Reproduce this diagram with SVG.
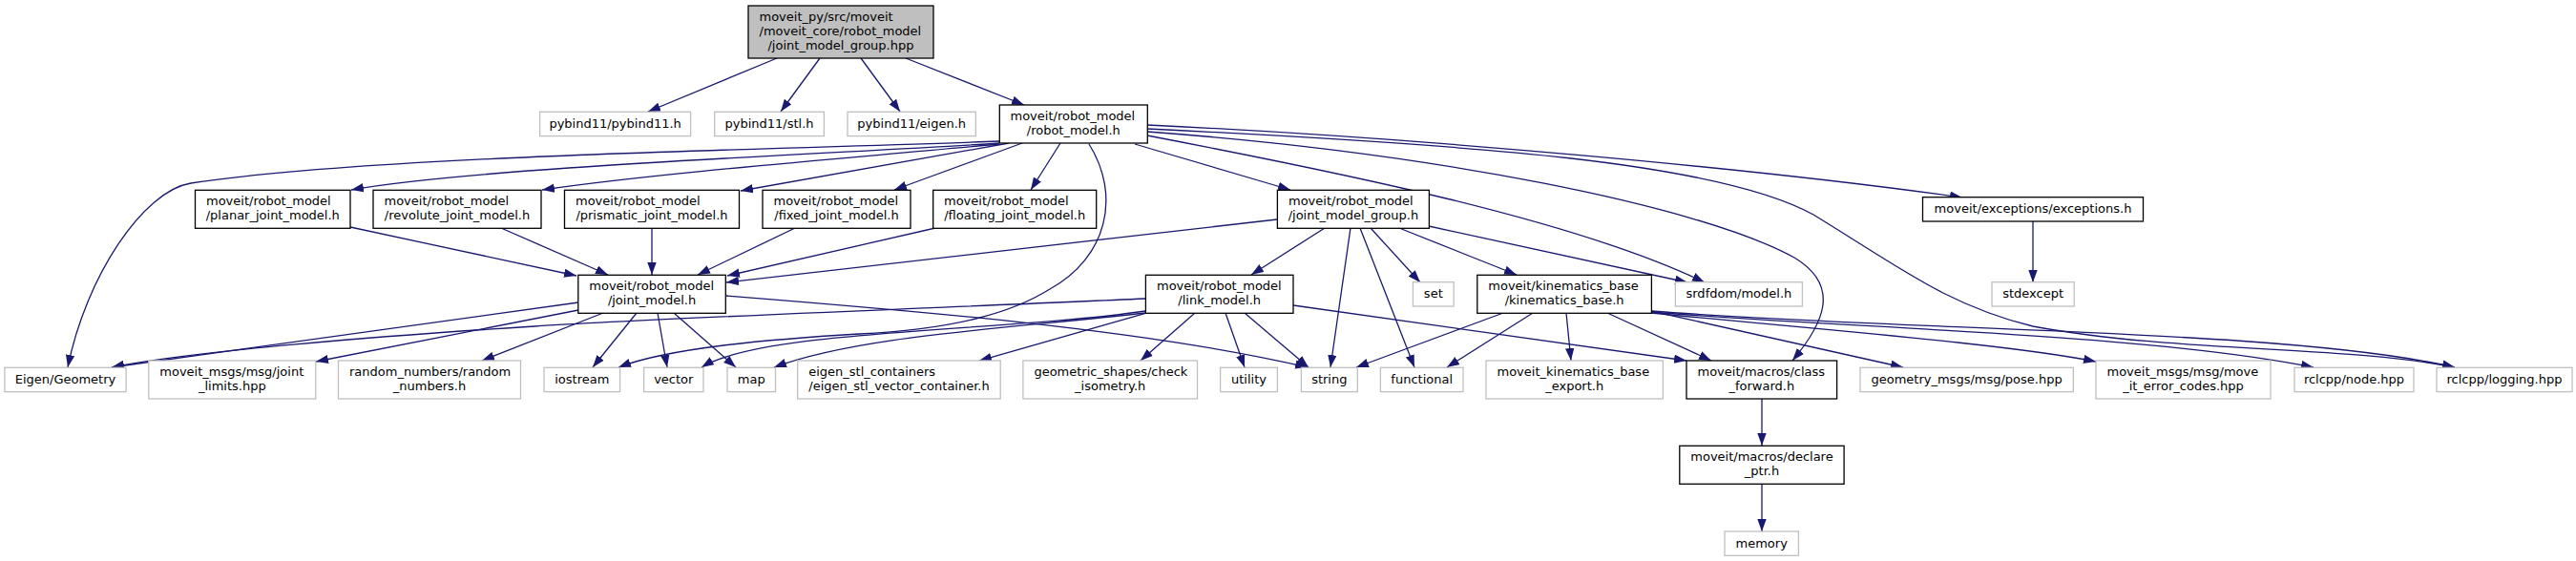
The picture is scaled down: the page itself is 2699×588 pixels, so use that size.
<svg xmlns="http://www.w3.org/2000/svg" width="2699" height="588" viewBox="0 0 2699 588">
<style>
text{font-family:"DejaVu Sans","Liberation Sans",sans-serif;font-size:13px;fill:#000}
.m{text-anchor:middle}
.s{text-anchor:start}
.g rect,rect.g{fill:#fff;stroke:#bfbfbf;stroke-width:1.3}
rect.b{fill:#fff;stroke:#000;stroke-width:1.3}
rect.t{fill:#bfbfbf;stroke:#000;stroke-width:1.3}
#edges path{fill:none;stroke:#191970;stroke-width:1.3;marker-end:url(#ah)}
</style>
<defs>
<marker id="ah" markerUnits="userSpaceOnUse" markerWidth="14" markerHeight="10" refX="13" refY="4.7" orient="auto">
<path d="M0,0 L13,4.7 L0,9.4 Z" fill="#191970"/>
</marker>
</defs>
<rect width="2699" height="588" fill="#fff"/>
<g id="edges">
<path d="M814,61 L679,117"/>
<path d="M859,61 L818,117"/>
<path d="M902,61 L943,117"/>
<path d="M949,61 L1073,110"/>
<path d="M1047,148 C850,156 400,162 200,192 C150,200 90,290 71,385"/>
<path d="M1047,150 C900,160 500,175 368,199"/>
<path d="M1047,151 C900,165 700,180 568,199"/>
<path d="M1057,150 L776,200"/>
<path d="M1071,150 L937,199"/>
<path d="M1111,150 L1080,199"/>
<path d="M1141,151 C1175,205 1160,270 1100,303 C1060,328 1000,345 900,350 C800,356 700,365 648,385"/>
<path d="M1189,151 L1352,199"/>
<path d="M1202,131 C1500,145 1850,178 2056,207"/>
<path d="M1202,135 C1550,152 1800,170 1900,225 C1990,280 2040,320 2130,342 C2280,370 2460,362 2572,385"/>
<path d="M1202,142 C1400,180 1650,230 1786,296"/>
<path d="M1202,138 C1500,160 1780,215 1880,270 C1930,300 1910,340 1878,378"/>
<path d="M367,238 L604,289"/>
<path d="M525,239 L637,288"/>
<path d="M683,239 L683,288"/>
<path d="M833,239 L731,288"/>
<path d="M980,239 L762,289"/>
<path d="M1338,230 L761,296"/>
<path d="M1388,239 L1311,288"/>
<path d="M1415,239 L1394,385"/>
<path d="M1425,239 L1482,385"/>
<path d="M1436,239 L1488,296"/>
<path d="M1466,239 L1589,288"/>
<path d="M1497,237 L1768,296"/>
<path d="M606,317 L117,385"/>
<path d="M606,325 L331,379"/>
<path d="M632,328 L505,378"/>
<path d="M667,328 L621,385"/>
<path d="M689,328 L699,385"/>
<path d="M706,328 L771,385"/>
<path d="M761,310 C950,325 1200,345 1370,385"/>
<path d="M1200,313 C1000,322 700,333 560,342 C400,352 200,368 117,385"/>
<path d="M1200,326 C1050,348 800,345 735,385"/>
<path d="M1200,328 C1050,345 900,352 811,385"/>
<path d="M1201,328 L1026,378"/>
<path d="M1252,328 L1195,378"/>
<path d="M1284,328 L1304,385"/>
<path d="M1304,328 L1371,385"/>
<path d="M1355,320 L1767,378"/>
<path d="M1575,328 L1421,385"/>
<path d="M1606,328 L1516,385"/>
<path d="M1641,328 L1646,378"/>
<path d="M1684,328 L1793,378"/>
<path d="M1730,326 L1994,385"/>
<path d="M1730,328 C1900,345 2100,360 2196,379"/>
<path d="M1730,327 C1950,345 2250,350 2424,385"/>
<path d="M1730,326 C2000,347 2400,345 2572,385"/>
<path d="M2130,232 L2130,296"/>
<path d="M1846,418 L1846,467"/>
<path d="M1846,507 L1846,557"/>
</g>
<g id="n_top"><rect class="t" x="784" y="6" width="194" height="55"/><text class="s" x="795.5" y="21.7">moveit_py/src/moveit</text><text class="s" x="795.5" y="36.7">/moveit_core/robot_model</text><text class="m" x="881" y="51.7">/joint_model_group.hpp</text></g>
<g id="n_pybind11"><rect class="g" x="565.6" y="117.3" width="158" height="25.3"/><text class="m" x="644.6" y="134">pybind11/pybind11.h</text></g>
<g id="n_stl"><rect class="g" x="748.7" y="117.3" width="114.7" height="25.3"/><text class="m" x="806" y="134">pybind11/stl.h</text></g>
<g id="n_eigenh"><rect class="g" x="888" y="117.3" width="134.3" height="25.3"/><text class="m" x="955.2" y="134">pybind11/eigen.h</text></g>
<g id="n_robot_model"><rect class="b" x="1047.3" y="110" width="155" height="40"/><text class="s" x="1058.5" y="126">moveit/robot_model</text><text class="m" x="1124.8" y="141">/robot_model.h</text></g>
<g id="n_planar"><rect class="b" x="204.5" y="199.3" width="162.5" height="40"/><text class="s" x="216" y="215.3">moveit/robot_model</text><text class="m" x="285.75" y="230.3">/planar_joint_model.h</text></g>
<g id="n_revolute"><rect class="b" x="391" y="199.3" width="176" height="40"/><text class="s" x="402.5" y="215.3">moveit/robot_model</text><text class="m" x="479" y="230.3">/revolute_joint_model.h</text></g>
<g id="n_prismatic"><rect class="b" x="591.5" y="199.3" width="183" height="40"/><text class="s" x="603" y="215.3">moveit/robot_model</text><text class="m" x="683" y="230.3">/prismatic_joint_model.h</text></g>
<g id="n_fixed"><rect class="b" x="799" y="199.3" width="155" height="40"/><text class="s" x="810.5" y="215.3">moveit/robot_model</text><text class="m" x="876.5" y="230.3">/fixed_joint_model.h</text></g>
<g id="n_floating"><rect class="b" x="977.7" y="199.3" width="171" height="40"/><text class="s" x="989" y="215.3">moveit/robot_model</text><text class="m" x="1063.2" y="230.3">/floating_joint_model.h</text></g>
<g id="n_jmg"><rect class="b" x="1338.4" y="199.3" width="159" height="40"/><text class="s" x="1350" y="215.3">moveit/robot_model</text><text class="m" x="1417.9" y="230.3">/joint_model_group.h</text></g>
<g id="n_exceptions"><rect class="b" x="2014.5" y="206.7" width="231" height="25.3"/><text class="m" x="2130" y="223.3">moveit/exceptions/exceptions.h</text></g>
<g id="n_joint_model"><rect class="b" x="605.8" y="288.3" width="154.5" height="40"/><text class="s" x="617.3" y="304.3">moveit/robot_model</text><text class="m" x="683" y="319.3">/joint_model.h</text></g>
<g id="n_link_model"><rect class="b" x="1200.4" y="288.3" width="154.6" height="40"/><text class="s" x="1212" y="304.3">moveit/robot_model</text><text class="m" x="1277.7" y="319.3">/link_model.h</text></g>
<g id="n_set"><rect class="g" x="1480.4" y="295.7" width="42.8" height="25.3"/><text class="m" x="1501.8" y="312.3">set</text></g>
<g id="n_kinematics"><rect class="b" x="1547.8" y="288.3" width="182.6" height="40"/><text class="s" x="1559.3" y="304.3">moveit/kinematics_base</text><text class="m" x="1639.1" y="319.3">/kinematics_base.h</text></g>
<g id="n_srdfdom"><rect class="g" x="1755.4" y="295.7" width="133" height="25.3"/><text class="m" x="1821.9" y="312.3">srdfdom/model.h</text></g>
<g id="n_stdexcept"><rect class="g" x="2087" y="295.7" width="86.2" height="25.3"/><text class="m" x="2130.1" y="312.3">stdexcept</text></g>
<g id="n_eigen_geometry"><rect class="g" x="4.9" y="385.3" width="127.2" height="25.3"/><text class="m" x="68.5" y="402">Eigen/Geometry</text></g>
<g id="n_joint_limits"><rect class="g" x="155.8" y="378" width="175" height="40"/><text class="s" x="167.3" y="394">moveit_msgs/msg/joint</text><text class="m" x="243.3" y="409">_limits.hpp</text></g>
<g id="n_random"><rect class="g" x="354.5" y="378" width="191" height="40"/><text class="s" x="366" y="394">random_numbers/random</text><text class="m" x="450" y="409">_numbers.h</text></g>
<g id="n_iostream"><rect class="g" x="570" y="385.3" width="79.6" height="25.3"/><text class="m" x="609.8" y="402">iostream</text></g>
<g id="n_vector"><rect class="g" x="674.6" y="385.3" width="62.4" height="25.3"/><text class="m" x="705.8" y="402">vector</text></g>
<g id="n_map"><rect class="g" x="762" y="385.3" width="50.5" height="25.3"/><text class="m" x="787.2" y="402">map</text></g>
<g id="n_eigen_stl"><rect class="g" x="835.7" y="378" width="212.5" height="40"/><text class="s" x="847.2" y="394">eigen_stl_containers</text><text class="m" x="942" y="409">/eigen_stl_vector_container.h</text></g>
<g id="n_geometric"><rect class="g" x="1071.9" y="378" width="182.6" height="40"/><text class="s" x="1083.4" y="394">geometric_shapes/check</text><text class="m" x="1163.2" y="409">_isometry.h</text></g>
<g id="n_utility"><rect class="g" x="1278.6" y="385.3" width="59.8" height="25.3"/><text class="m" x="1308.5" y="402">utility</text></g>
<g id="n_string"><rect class="g" x="1363.4" y="385.3" width="58.9" height="25.3"/><text class="m" x="1392.8" y="402">string</text></g>
<g id="n_functional"><rect class="g" x="1446.4" y="385.3" width="86.6" height="25.3"/><text class="m" x="1489.7" y="402">functional</text></g>
<g id="n_export"><rect class="g" x="1557" y="378" width="185.4" height="40"/><text class="s" x="1568.5" y="394">moveit_kinematics_base</text><text class="m" x="1649.7" y="409">_export.h</text></g>
<g id="n_class_forward"><rect class="b" x="1767" y="378" width="157.6" height="40"/><text class="s" x="1778.5" y="394">moveit/macros/class</text><text class="m" x="1845.8" y="409">_forward.h</text></g>
<g id="n_pose"><rect class="g" x="1949" y="385.3" width="223.3" height="25.3"/><text class="m" x="2060.6" y="402">geometry_msgs/msg/pose.hpp</text></g>
<g id="n_error_codes"><rect class="g" x="2196" y="378" width="183" height="40"/><text class="s" x="2207.5" y="394">moveit_msgs/msg/move</text><text class="m" x="2287.5" y="409">_it_error_codes.hpp</text></g>
<g id="n_node"><rect class="g" x="2404" y="385.3" width="125" height="25.3"/><text class="m" x="2466.5" y="402">rclcpp/node.hpp</text></g>
<g id="n_logging"><rect class="g" x="2553" y="385.3" width="142" height="25.3"/><text class="m" x="2624" y="402">rclcpp/logging.hpp</text></g>
<g id="n_declare_ptr"><rect class="b" x="1759.8" y="467.3" width="172.3" height="40"/><text class="s" x="1771.3" y="483.3">moveit/macros/declare</text><text class="m" x="1846" y="498.3">_ptr.h</text></g>
<g id="n_memory"><rect class="g" x="1807" y="557" width="77.4" height="25.3"/><text class="m" x="1845.7" y="573.7">memory</text></g>
</svg>
